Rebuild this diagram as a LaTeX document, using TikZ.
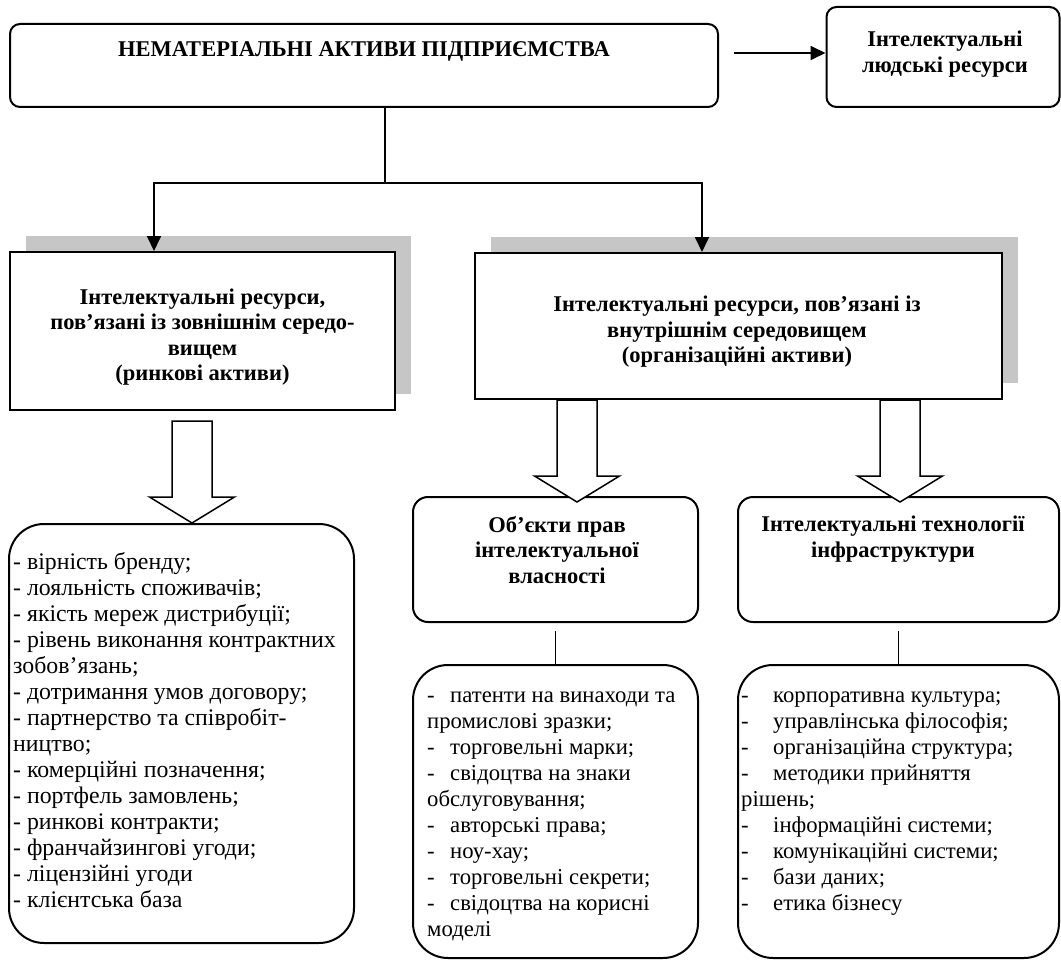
\documentclass[tikz,border=0pt]{standalone}
\usepackage{fontspec}
\setmainfont{Liberation Serif}
\usetikzlibrary{calc, positioning, arrows.meta, shadows}
\definecolor{shadowgray}{RGB}{198,198,198}
\newcommand{\tabdash}[1][23pt]{\makebox[#1][l]{-}}
% wide hollow arrow from a start point down to a tip
\newcommand{\fatarrow}[2]{%
  \draw[fat] let \p1=#1, \p2=#2 in
    (\x1-20pt,\y1) -- (\x1+20pt,\y1) -- (\x1+20pt,\y2+26pt) -- (\x1+42.5pt,\y2+26pt)
    -- (\x1,\y2) -- (\x1-42.5pt,\y2+26pt) -- (\x1-20pt,\y2+26pt) -- cycle;}

\begin{document}
\begin{tikzpicture}[x=1pt, y=-1pt,
    every node/.style={font=\fontsize{22.7}{26}\selectfont},
    boxline/.style={draw, line width=2pt, inner sep=0pt},
    rbox/.style={boxline, rounded corners=10pt},
    sbox/.style={boxline, fill=white, drop shadow={shadow xshift=16pt, shadow yshift=16pt, fill=shadowgray, opacity=1}},
    hbox/.style={boxline, rounded corners=15pt},
    listbox/.style={boxline, rounded corners=35pt},
    headtext/.style={align=center, inner sep=0pt, font=\fontsize{22.5}{25.5}\selectfont\bfseries},
    itemtext/.style={align=left, anchor=west, inner sep=0pt},
    link/.style={line width=1.8pt},
    arr/.style={link, -{Triangle[length=15pt, width=14pt]}},
    fat/.style={line width=1.5pt, fill=white}]
  \useasboundingbox (0,0) rectangle (1061,963);

  % top level
  \node[rbox, minimum width=708pt, minimum height=83pt] (assets) at (364,65.5) {};
  \node[headtext] (assetsText) at (364,51) {НЕМАТЕРІАЛЬНІ АКТИВИ ПІДПРИЄМСТВА};
  \node[rbox, minimum width=233pt, minimum height=100pt] (people) at (943,57) {};
  \node[headtext] (peopleText) at (945,54) {Інтелектуальні\\людські ресурси};
  \draw[arr] ([xshift=15pt, yshift=12.5pt]assets.east) -- ([yshift=12.5pt]assets.east -| people.west);

  % two groups of resources
  \node[sbox, minimum width=385pt, minimum height=158pt] (market) at (202.5,331) {};
  \node[headtext] (marketText) at (202.5,337) {Інтелектуальні ресурси,\\пов’язані із зовнішнім середо-\\вищем\\(ринкові активи)};
  \node[sbox, minimum width=527pt, minimum height=146pt] (org) at (738.5,326) {};
  \node[headtext] (orgText) at (737,332) {Інтелектуальні ресурси, пов’язані із\\внутрішнім середовищем\\(організаційні активи)};

  \coordinate (fork) at (385,183);
  \draw[link] (fork |- assets.south) -- (fork);
  \draw[arr] (fork) -| ([xshift=-48.5pt]market.north);
  \draw[arr] (fork) -| ([xshift=-36.5pt]org.north);

  % organisational assets
  \node[hbox, minimum width=285pt, minimum height=125pt] (ipHead) at (555.5,559.5) {};
  \node[headtext] (ipText) at (557,550) {Об’єкти прав\\інтелектуальної\\власності};
  \node[hbox, minimum width=321pt, minimum height=125pt] (infraHead) at (898.5,559.5) {};
  \node[headtext] (infraText) at (893,539) {Інтелектуальні технології\\інфраструктури};

  % lists
  \node[listbox, minimum width=345pt, minimum height=419pt] (mktList) at (181.5,733.5) {};
  \node[itemtext, font=\fontsize{23.8}{26}\selectfont] (mktItems) at (13,730) {- вірність бренду;\\- лояльність споживачів;\\- якість мереж дистрибуції;\\- рівень виконання контрактних\\зобов’язань;\\- дотримання умов договору;\\- партнерство та співробіт-\\ництво;\\- комерційні позначення;\\- портфель замовлень;\\- ринкові контракти;\\- франчайзингові угоди;\\- ліцензійні угоди\\- клієнтська база};
  \node[listbox, minimum width=285pt, minimum height=293pt] (ipList) at (555.5,811.5) {};
  \node[itemtext] (ipItems) at (427,816) {\tabdash патенти на винаходи та\\промислові зразки;\\\tabdash торговельні марки;\\\tabdash свідоцтва на знаки\\обслуговування;\\\tabdash авторські права;\\\tabdash ноу-хау;\\\tabdash торговельні секрети;\\\tabdash свідоцтва на корисні\\моделі};
  \node[listbox, minimum width=321pt, minimum height=293pt] (infraList) at (898.5,811.5) {};
  \node[itemtext] (infraItems) at (741,804) {\tabdash[32pt]корпоративна культура;\\\tabdash[32pt]управлінська філософія;\\\tabdash[32pt]організаційна структура;\\\tabdash[32pt]методики прийняття\\рішень;\\\tabdash[32pt]інформаційні системи;\\\tabdash[32pt]комунікаційні системи;\\\tabdash[32pt]бази даних;\\\tabdash[32pt]етика бізнесу};

  \draw[link] ([yshift=-8pt]ipHead.south) -- (ipList.north);
  \draw[link] ([yshift=-8pt]infraHead.south) -- (infraList.north);

  % hollow arrows
  \fatarrow{([xshift=-10.5pt, yshift=-10pt]market.south)}{(mktList.north)}
  \fatarrow{([xshift=-161.5pt]org.south)}{([yshift=-6pt]ipHead.north)}
  \fatarrow{([xshift=161.5pt]org.south)}{([yshift=-6pt]infraHead.north)}
\end{tikzpicture}
\end{document}
